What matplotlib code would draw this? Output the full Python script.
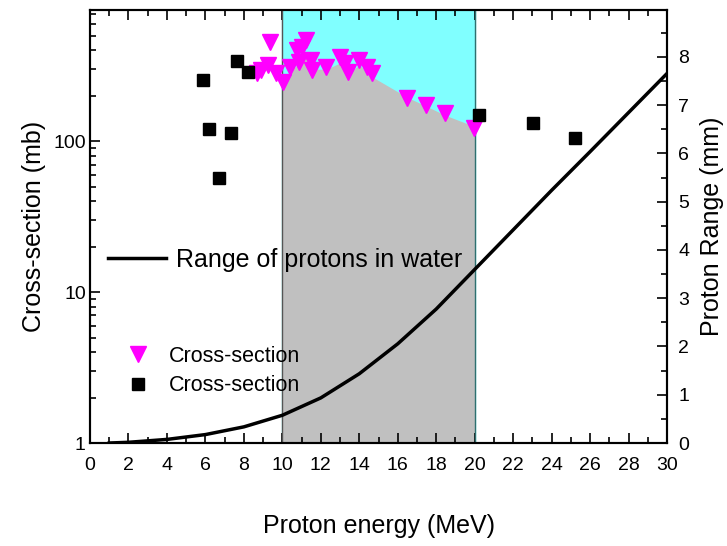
import matplotlib
matplotlib.use('Agg')
import matplotlib.pyplot as plt
from matplotlib.ticker import MultipleLocator, FixedLocator, NullFormatter

plt.rcParams['font.family'] = ['Liberation Sans', 'DejaVu Sans']

# measured cross-sections, set 1 (triangles)
e_tri = [8.67, 8.89, 9.24, 9.36, 9.67, 10.02, 10.40, 10.75, 10.87, 11.0, 11.23,
         11.48, 11.54, 12.26, 13.0, 13.26, 13.42, 13.99, 14.39, 14.65,
         16.48, 17.46, 18.46, 19.95]
xs_tri = [282, 295, 319, 455, 282, 247, 311, 400, 335, 421, 467,
          344, 295, 311, 360, 329, 288, 344, 311, 282,
          194, 173, 153, 122]

# measured cross-sections, set 2 (squares)
e_sq = [5.86, 6.2, 6.69, 7.33, 7.63, 8.2, 20.24, 23.02, 25.22]
xs_sq = [256, 121, 57, 114, 339, 288, 150, 132, 105]

# upper edge of the shaded 10-20 MeV window
e_band = [10.0, 10.4, 10.9, 11.25, 11.6, 12.3, 13.0, 13.5, 14.0, 14.6,
          16.5, 17.5, 18.5, 20.0]
xs_band = [224, 290, 330, 390, 300, 300, 330, 285, 320, 270,
           195, 170, 148, 125]

# proton range in water
e_rng = [1, 2, 4, 6, 8, 10, 12, 14, 16, 18, 20, 22, 24, 26, 28, 30]
rng = [0.0, 0.015, 0.075, 0.175, 0.335, 0.575, 0.935, 1.435, 2.055, 2.775,
       3.595, 4.415, 5.235, 6.035, 6.845, 7.655]

fig = plt.figure(figsize=(7.27, 5.46), dpi=100)
ax = fig.add_axes([0.1238, 0.1886, 0.7937, 0.7931])
ax.set_yscale('log')
ax.set_xlim(0, 30)
ax.set_ylim(1, 740)

ax.axvspan(10, 20, color='#80FFFF', zorder=0)
ax.fill_between(e_band, 1, xs_band, color='#C0C0C0', zorder=1, linewidth=0)
ax.axvline(10, color='#555555', linewidth=1, zorder=2)
ax.axvline(20, color='#2F6F6F', linewidth=1, zorder=2)

ax.plot(e_tri, xs_tri, linestyle='none', marker='v', markersize=11,
        color='magenta', label='Cross-section', zorder=4)
ax.plot(e_sq, xs_sq, linestyle='none', marker='s', markersize=8,
        color='black', label='Cross-section', zorder=4)

ax2 = ax.twinx()
ax2.set_ylim(0, 8.97)
ax2.plot(e_rng, rng, color='black', linewidth=2.5, label='Range of protons in water')

ax.set_xlabel('Proton energy (MeV)', fontsize=18, labelpad=29)
ax.set_ylabel('Cross-section (mb)', fontsize=18, labelpad=5)
ax2.set_ylabel('Proton Range (mm)', fontsize=18, labelpad=8)

ax.xaxis.set_major_locator(MultipleLocator(2))
ax.xaxis.set_minor_locator(MultipleLocator(1))
ax.yaxis.set_major_locator(FixedLocator([1, 10, 100]))
ax.yaxis.set_minor_locator(FixedLocator([k * 10 ** d for d in range(3) for k in range(2, 10)]))
ax.yaxis.set_minor_formatter(NullFormatter())
ax.set_yticklabels(['1', '10', '100'])
ax2.yaxis.set_major_locator(MultipleLocator(1))
ax2.yaxis.set_minor_locator(MultipleLocator(0.5))

ax.tick_params(axis='both', which='both', direction='in', top=True, labelsize=14)
ax.tick_params(axis='x', which='major', length=7, width=1.2, pad=10)
ax.tick_params(axis='x', which='minor', length=4, width=1.2)
ax.tick_params(axis='y', which='major', length=7, width=1.2, pad=3)
ax.tick_params(axis='y', which='minor', length=4, width=1.2)
ax2.tick_params(axis='y', which='major', direction='in', length=7, width=1.2,
                labelsize=14, pad=8)
ax2.tick_params(axis='y', which='minor', direction='in', length=4, width=1.2)
for sp in ax.spines.values():
    sp.set_linewidth(1.5)
for sp in ax2.spines.values():
    sp.set_linewidth(1.5)

ax2.legend(loc='center left', bbox_to_anchor=(108 / 727, 1 - 260 / 546),
           bbox_transform=fig.transFigure, frameon=False, fontsize=18,
           handlelength=2.3, handletextpad=0.4, borderpad=0, borderaxespad=0)
ax.legend(loc='center left', bbox_to_anchor=(127 / 727, 1 - 371 / 546),
          bbox_transform=fig.transFigure, frameon=False, fontsize=15.5,
          handlelength=1.0, handletextpad=0.95, labelspacing=0.4,
          borderpad=0, borderaxespad=0)

fig.savefig('out.png', dpi=100)
